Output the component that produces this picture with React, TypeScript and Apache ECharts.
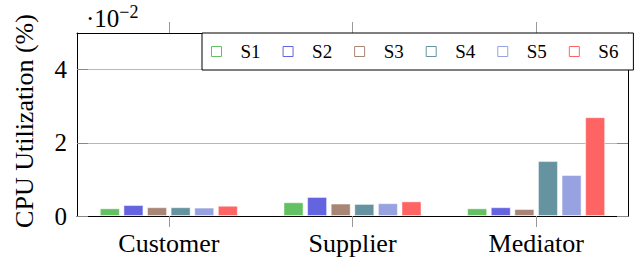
import React, { useEffect, useRef } from "react";
import * as echarts from "echarts";

const categories = ["Customer", "Supplier", "Mediator"];
const seriesNames = ["S1", "S2", "S3", "S4", "S5", "S6"];
const s1 = [0.21, 0.375, 0.21];
const s2 = [0.30, 0.52, 0.24];
const s3 = [0.24, 0.34, 0.19];
const s4 = [0.24, 0.33, 1.50];
const s5 = [0.23, 0.35, 1.12];
const s6 = [0.28, 0.40, 2.70];
const seriesValues = [s1, s2, s3, s4, s5, s6];
const colors = ["#63c163", "#6464e0", "#a88575", "#6594a0", "#96a3e0", "#ff6464"];
const yTicks = [0, 2, 4];

const FONT = "Liberation Serif";

export default function App() {
  const ref = useRef<HTMLDivElement>(null);
  useEffect(() => {
    if (!ref.current) return;
    const chart = echarts.init(ref.current, undefined, { renderer: "svg" });
    chart.setOption({
      animation: false,
      textStyle: { fontFamily: FONT },
      grid: { left: 77, right: 6, top: 33, bottom: 47 },
      legend: {
        data: seriesNames.map((n, i) => ({
          name: n,
          itemStyle: { color: "#fff", borderColor: colors[i], borderWidth: 1 },
        })),
        left: 202,
        top: 33,
        orient: "horizontal",
        icon: "rect",
        itemWidth: 10,
        itemHeight: 10,
        itemGap: 22,
        padding: [9, 15, 9, 9],
        borderColor: "#000",
        borderWidth: 1,
        backgroundColor: "#fff",
        textStyle: { fontFamily: FONT, fontSize: 19, color: "#000", padding: [0, 0, 0, 14] },
        z: 10,
      },
      xAxis: [
        {
          type: "category",
          position: "bottom",
          data: categories,
          axisLine: { show: true, onZero: false, lineStyle: { color: "#000", width: 1 } },
          axisTick: { show: true, inside: false, alignWithLabel: true, length: 11, lineStyle: { color: "#999", width: 1 } },
          axisLabel: { fontFamily: FONT, fontSize: 26, color: "#000", margin: 14 },
        },
        {
          type: "category",
          data: categories,
          position: "top",
          axisLine: { show: true, onZero: false, lineStyle: { color: "#000", width: 1 } },
          axisTick: { show: true, inside: false, alignWithLabel: true, length: 11, lineStyle: { color: "#999", width: 1 } },
          axisLabel: { show: false },
        },
      ],
      yAxis: [
        {
          type: "value",
          min: 0,
          max: 5,
          interval: 2,
          axisLine: { show: true, lineStyle: { color: "#000", width: 1 } },
          axisTick: { show: true, inside: true, length: 11, lineStyle: { color: "#888" } },
          splitLine: { show: true, lineStyle: { color: "#b8b8b8", width: 1 } },
          axisLabel: {
            fontFamily: FONT,
            fontSize: 25,
            color: "#000",
            margin: 10,
            showMaxLabel: false,
            formatter: (v: number) => (yTicks.includes(v) ? String(v) : ""),
          },
        },
        {
          type: "value",
          min: 0,
          max: 5,
          interval: 2,
          position: "right",
          axisLine: { show: true, lineStyle: { color: "#000", width: 1 } },
          axisTick: { show: true, inside: true, length: 11, lineStyle: { color: "#888" } },
          splitLine: { show: false },
          axisLabel: { show: false },
        },
      ],
      series: seriesNames.map((name, i) => ({
        name,
        type: "bar",
        data: seriesValues[i],
        barWidth: 20,
        barGap: "18%",
        itemStyle: { color: colors[i], borderColor: "rgba(255,255,255,0.45)", borderWidth: 1 },
      })),
      graphic: [
        {
          type: "text",
          x: 24,
          y: 121,
          rotation: Math.PI / 2,
          style: {
            text: "CPU Utilization (%)",
            fontFamily: FONT,
            fontSize: 26,
            fill: "#000",
            align: "center",
            verticalAlign: "middle",
          },
        },
        {
          type: "text",
          x: 86,
          y: 3,
          style: {
            text: "{a|·10}{b|−2}",
            rich: {
              a: { fontFamily: FONT, fontSize: 25, fill: "#000", color: "#000", verticalAlign: "bottom" },
              b: { fontFamily: FONT, fontSize: 18, fill: "#000", color: "#000", verticalAlign: "top", padding: [0, 0, 10, 0] },
            },
            fill: "#000",
          },
        },
      ],
    });
    return () => chart.dispose();
  }, []);
  return <div ref={ref} style={{ width: 634, height: 263, position: "absolute", left: 0, top: 0 }} />;
}
